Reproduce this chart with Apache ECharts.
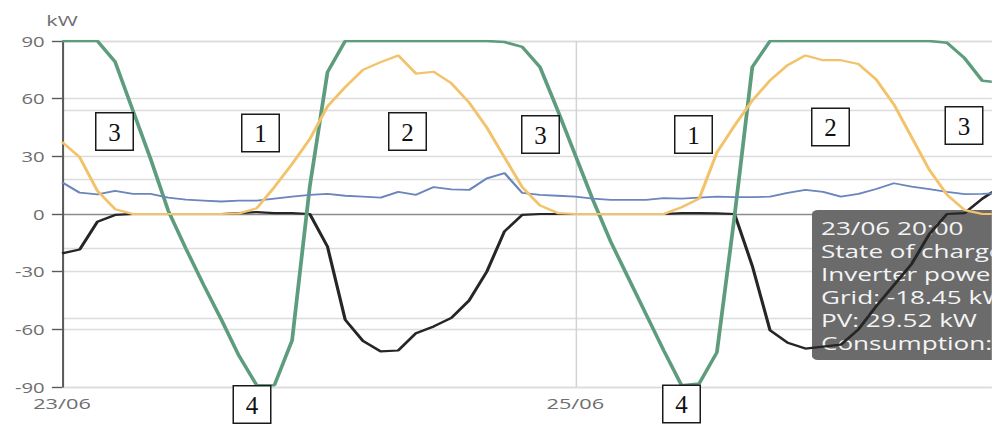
<!DOCTYPE html>
<html>
<head>
<meta charset="utf-8">
<script src="https://cdn.jsdelivr.net/npm/echarts@6/dist/echarts.min.js"></script>
<style>
  html, body { margin: 0; padding: 0; background: #ffffff; width: 992px; height: 424px; overflow: hidden; }
  #chart { position: absolute; left: 0; top: 0; height: 424px; transform-origin: 0 0; }
</style>
</head>
<body>
<div id="chart"></div>
<script>
// Hourly samples starting 23/06 19:00
const START_DAY = 23, START_HOUR = 19, HOURS = 54;
const times = Array.from({ length: HOURS }, (_, i) => {
  const h = START_HOUR + i;
  const d = START_DAY + Math.floor(h / 24);
  return String(d).padStart(2, '0') + '/06 ' + String(h % 24).padStart(2, '0') + ':00';
});

// Battery state of charge, %
const soc = [100, 100, 100, 94, 80, 66, 51, 40, 29.5, 19.5,
             9, 0.5, 0.5, 13.5, 58, 91, 100, 100, 100, 100,
             100, 100, 100, 100, 100, 99.7, 98.3, 92.5, 80, 67,
             54, 42, 31.5, 21, 10.5, 0.5, 1, 10, 49.5, 92.5,
             100, 100, 100, 100, 100, 100, 100, 100, 100, 100,
             99.5, 95, 88.5, 88];

// PV production, kW
const pv = [37.5, 29.52, 12, 2.5, 0, 0, 0, 0, 0, 0,
            0.3, 3, 14, 26, 39, 56, 66, 75, 79, 82.5,
            73, 74, 68, 58, 45, 29.5, 14, 4.5, 0.5, 0,
            0, 0, 0, 0, 0, 3.5, 8, 32, 46, 59,
            69.5, 77.5, 82.5, 80, 80, 78, 70, 57, 40, 23,
            10, 2, 0, 0];

// Consumption, kW
const consumption = [16.5, 11.07, 10.2, 12, 10.5, 10.5, 8.5, 7.5, 7, 6.5,
                     7, 7, 8, 9, 10, 10.5, 9.5, 9, 8.5, 11.5,
                     10, 14, 12.8, 12.5, 18.5, 21.3, 11, 10, 9.5, 9,
                     8, 7.3, 7.3, 7.3, 8.3, 8, 8.5, 9, 8.8, 8.8,
                     9, 11, 12.5, 11.5, 9, 10.5, 13, 16, 14.2, 13,
                     11.5, 10.3, 10.5, 11];

// Grid exchange, kW (negative = export)
const grid = [-20.5, -18.45, -4, -0.5, 0, 0, 0, 0, 0, 0,
              0.5, 1, 0.5, 0.5, 0, -17, -55, -66, -71.5, -71,
              -62, -58.5, -54, -45, -30, -9, -0.5, 0, 0, 0,
              0, 0, 0, 0, 0, 0.5, 0.5, 0.3, 0, -27,
              -60.5, -67, -70, -69, -68, -60, -48, -37, -26, -10.5,
              0, 0.5, 8, 14];

// Axis settings
const yTicks = [-90, -60, -30, 0, 30, 60, 90];
const xLabelIndex = [0, 29];
const tipIndex = 1;

// Annotation boxes: label, centre (page px)
const boxLabels = ['3', '1', '2', '3', '1', '2', '3', '4', '4'];
const boxCentres = [[114.5, 131.5], [260.5, 133], [407.5, 131.5], [540.5, 134.5],
                    [693.5, 134.5], [830.5, 127], [964, 125.5], [252, 404.5], [681.5, 404]];

// Drawing is laid out narrow and widened horizontally by S
const S = 1.45;
const PAGE_W = 992, PAGE_H = 424;
const PX_PER_HOUR = 17.7;
const LEFT = 62, TOP = 41, PLOT_H = 346;
const X_MAX = (PAGE_W - LEFT) / PX_PER_HOUR;   // plot runs to the page edge

const el = document.getElementById('chart');
el.style.width = (PAGE_W / S) + 'px';
el.style.transform = 'scaleX(' + S + ')';

const chart = echarts.init(el, null, { renderer: 'svg', width: PAGE_W / S, height: PAGE_H });

const FONT = '"Open Sans", "Noto Sans", sans-serif';
const pair = arr => arr.map((v, i) => [i, v]);

// Boxed numbers: frame built from two filled rects so the border stays even after widening
const BOX = 39, EDGE = 1.5;
const boxGraphics = [];
boxLabels.forEach((t, k) => {
  const cx = boxCentres[k][0], cy = boxCentres[k][1];
  boxGraphics.push({
    type: 'rect', z: 20,
    shape: { x: (cx - BOX / 2) / S, y: cy - BOX / 2, width: BOX / S, height: BOX },
    style: { fill: '#1a1a1a' }
  });
  boxGraphics.push({
    type: 'rect', z: 21,
    shape: { x: (cx - BOX / 2 + EDGE) / S, y: cy - BOX / 2 + EDGE,
             width: (BOX - 2 * EDGE) / S, height: BOX - 2 * EDGE },
    style: { fill: '#ffffff' }
  });
  boxGraphics.push({
    type: 'text', z: 22, x: cx / S, y: cy + 1, scaleX: 1 / S,
    style: { text: t, font: '25px "Liberation Serif", "Times New Roman", serif',
             fill: '#111111', align: 'center', verticalAlign: 'middle',
             textAlign: 'center', textVerticalAlign: 'middle' }
  });
});

// Hover readout for one sample; sits above the grid lines, under the series lines
const k = tipIndex;
const tipLines = [
  times[k],
  'State of charge: ' + soc[k] + ' %',
  'Inverter power: ' + pv[k].toFixed(2) + ' kW',
  'Grid: ' + grid[k].toFixed(2) + ' kW',
  'PV: ' + pv[k].toFixed(2) + ' kW',
  'Consumption: ' + consumption[k].toFixed(2) + ' kW'
];
const tipGraphic = {
  type: 'group',
  x: 812 / S,
  y: 210,
  z: 1,
  children: [
    { type: 'rect', z: 1, shape: { x: 0, y: 0, width: 150, height: 150, r: 4 },
      style: { fill: '#6b6b6b' } }
  ].concat(tipLines.map((line, j) => ({
    type: 'text', z: 1, x: 6.2, y: 18 + j * 23,
    style: { text: line, font: '18px ' + FONT, fill: '#f4f4f4',
             align: 'left', verticalAlign: 'middle',
             textAlign: 'left', textVerticalAlign: 'middle' }
  })))
};

const option = {
  animation: false,
  backgroundColor: '#ffffff',
  grid: { left: LEFT / S, top: TOP, right: 0, height: PLOT_H },
  xAxis: {
    type: 'value', min: 0, max: X_MAX, interval: xLabelIndex[1] - xLabelIndex[0],
    axisLine: { show: false, onZero: false },
    axisTick: { show: false },
    axisLabel: {
      color: '#6e6e6e', fontSize: 15, fontFamily: FONT, margin: 8,
      showMaxLabel: false,
      formatter: v => (xLabelIndex.indexOf(v) >= 0 ? times[v].slice(0, 5) : '')
    },
    splitLine: { show: true, showMaxLine: false, lineStyle: { color: '#d2d2d2', width: 1 } }
  },
  yAxis: [
    {
      type: 'value', min: yTicks[0], max: yTicks[yTicks.length - 1], interval: 30,
      name: 'kW', nameLocation: 'end', nameGap: 14,
      nameTextStyle: { color: '#6e6e6e', fontSize: 15, fontFamily: FONT, align: 'center' },
      axisLine: { show: true, lineStyle: { color: '#5a5a5a', width: 1.4 } },
      axisTick: { show: true, length: 7, lineStyle: { color: '#5a5a5a', width: 1.4 } },
      axisLabel: { color: '#6e6e6e', fontSize: 14, fontFamily: FONT, margin: 12 },
      splitLine: { show: true, lineStyle: {
        color: yTicks.map(v => (v === 0 ? '#8c8c8c' : '#dcdcdc')), width: 1.3 } }
    },
    {
      type: 'value', min: 0, max: 100, interval: 20, position: 'right',
      axisLine: { show: false }, axisTick: { show: false }, axisLabel: { show: false },
      splitLine: { show: true, lineStyle: { color: '#dcdcdc', width: 1.3 } }
    }
  ],
  series: [
    { name: 'Grid', type: 'line', yAxisIndex: 0, data: pair(grid), showSymbol: false,
      lineStyle: { color: '#262626', width: 2.2 } },
    { name: 'State of charge', type: 'line', yAxisIndex: 1, data: pair(soc), showSymbol: false,
      lineStyle: { color: '#5e9c7e', width: 2.6 } },
    { name: 'Consumption', type: 'line', yAxisIndex: 0, data: pair(consumption), showSymbol: false,
      lineStyle: { color: '#6a86bd', width: 1.8 } },
    { name: 'PV', type: 'line', yAxisIndex: 0, data: pair(pv), showSymbol: false,
      lineStyle: { color: '#f3c36b', width: 2.2 } }
  ],
  graphic: boxGraphics.concat([tipGraphic])
};

chart.setOption(option);
</script>
</body>
</html>
